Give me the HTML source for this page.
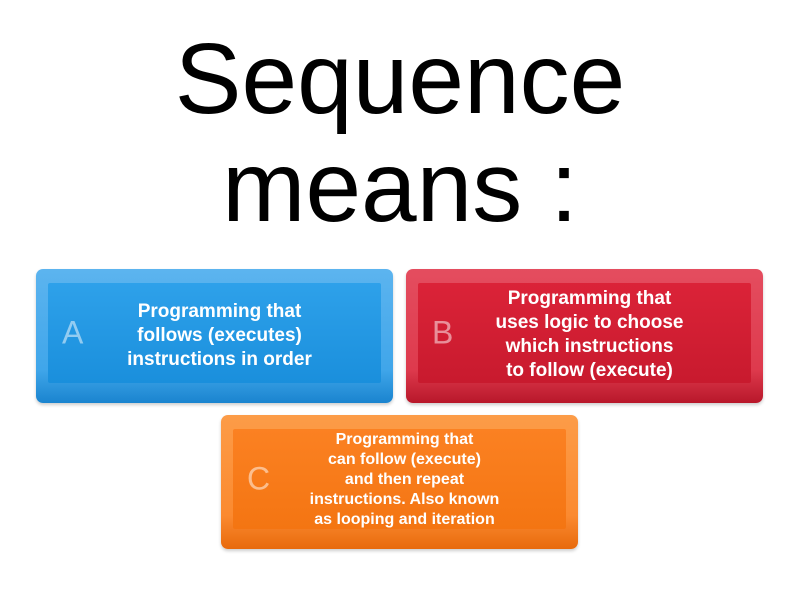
<!DOCTYPE html>
<html><head><style>
body{margin:0;width:800px;height:600px;background:#fff;position:relative;overflow:hidden;font-family:"Liberation Sans",sans-serif}
.t{position:absolute;left:0;width:800px;text-align:center;font-size:100px;color:#000;line-height:108px}
.b{position:absolute;width:357px;height:134px;border-radius:7px;box-shadow:0 2px 3px rgba(0,0,0,.2)}
.in{position:absolute;left:12px;right:12px;top:14px;bottom:20px;border-radius:2px}
.l{position:absolute;left:26px;top:50%;transform:translateY(-50%);font-size:32px;color:rgba(255,255,255,.5)}
.x{position:absolute;left:50px;right:30px;top:0;bottom:0;display:flex;align-items:center;justify-content:center;text-align:center;color:#fff;font-weight:bold}
</style></head><body>
<div class="t" style="top:25px">Sequence</div>
<div class="t" style="top:133px">means :</div>

<div class="b" style="left:36px;top:269px;background:linear-gradient(#5cb4ef,#40a6ea 75%,#1a84cf)">
 <div class="in" style="background:linear-gradient(#2ea1ea,#1a8fdc)"></div>
 <div class="l" style="top:64px">A</div>
 <div class="x" style="font-size:19px;line-height:24px;left:40px">Programming that<br>follows (executes)<br>instructions in order</div>
</div>

<div class="b" style="left:406px;top:269px;background:linear-gradient(#e44d5f,#de3a4d 75%,#b8172a)">
 <div class="in" style="background:linear-gradient(#db2338,#c81a2e)"></div>
 <div class="l" style="top:64px">B</div>
 <div class="x" style="font-size:19px;line-height:24px;left:40px;padding-bottom:2px">Programming that<br>uses logic to choose<br>which instructions<br>to follow (execute)</div>
</div>

<div class="b" style="left:221px;top:415px;background:linear-gradient(#fc9c48,#fb8a30 75%,#e86a0c)">
 <div class="in" style="background:linear-gradient(#fb8122,#f47512)"></div>
 <div class="l" style="top:64px">C</div>
 <div class="x" style="font-size:16px;line-height:20px;left:40px;padding-bottom:4px">Programming that<br>can follow (execute)<br>and then repeat<br>instructions. Also known<br>as looping and iteration</div>
</div>
</body></html>
